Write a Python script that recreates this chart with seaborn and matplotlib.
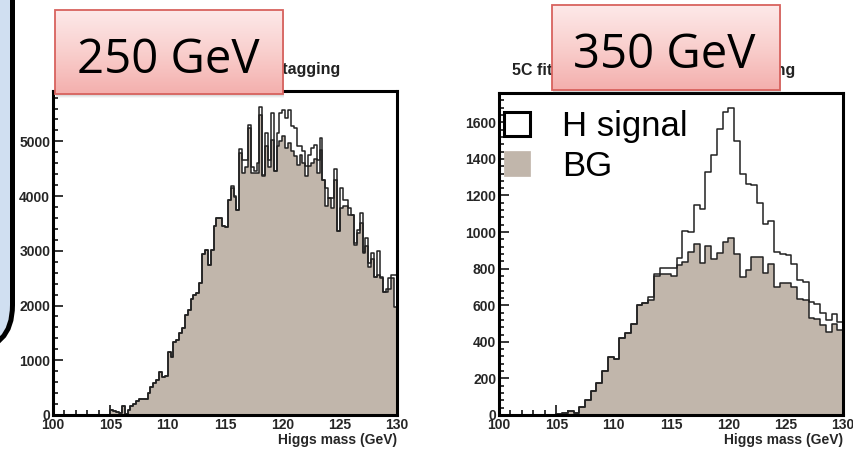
import numpy as np
import pandas as pd
import matplotlib
matplotlib.use("Agg")
import matplotlib.pyplot as plt
import seaborn as sns
from matplotlib.patches import Rectangle, FancyBboxPatch
from matplotlib.colors import LinearSegmentedColormap
from matplotlib.ticker import MultipleLocator

sns.set_theme(style="ticks")
plt.rcParams['font.family'] = ['Liberation Sans', 'DejaVu Sans']

# ---------------- data: reconstructed Higgs mass (GeV) ----------------
edges_250 = np.linspace(100, 130, 121).tolist()   # 0.25 GeV bins
edges_350 = np.linspace(100, 130, 61).tolist()    # 0.5 GeV bins

# sqrt(s) = 250 GeV : background and signal+background per bin
bg_250 = [
    0, 0, 0, 0, 0, 0, 0, 0, 0, 0, 0, 0, 0, 0, 0, 0, 0, 0, 0, 0,
    90, 80, 60, 30, 165, 20, 90, 165, 200, 260, 285, 295, 300, 400, 505, 580, 640, 790, 700, 705,
    1160, 1055, 1340, 1370, 1505, 1585, 1830, 1920, 2116, 2195, 2237, 2420, 2945, 3018, 2744, 3018, 3457, 3597, 3597, 3457,
    3432, 3932, 4145, 3990, 3740, 4785, 4420, 4540, 5244, 4420, 4420, 4420, 5488, 4372, 4909, 4540, 5030, 4451, 4909, 5000,
    5091, 4878, 4970, 4817, 4726, 4573, 4756, 4604, 4360, 4555, 4604, 4677, 4421, 4848, 4299, 3811, 3963, 3780, 4300, 3354,
    3780, 3811, 3811, 3650, 3650, 3100, 3320, 3500, 2960, 3080, 2700, 2850, 2530, 2560, 2500, 2256, 2250, 2300, 2500, 1980,
]
total_250 = [
    0, 0, 0, 0, 0, 0, 0, 0, 0, 0, 0, 0, 0, 0, 0, 0, 0, 0, 0, 0,
    90, 80, 60, 30, 165, 20, 90, 165, 200, 260, 285, 295, 300, 400, 505, 580, 640, 790, 700, 705,
    1160, 1055, 1340, 1370, 1505, 1585, 1830, 1920, 2116, 2195, 2237, 2420, 2945, 3018, 2744, 3018, 3457, 3597, 3597, 3457,
    3432, 3932, 4188, 3993, 3749, 4855, 4665, 4665, 5305, 4540, 4450, 4600, 5628, 4389, 5152, 4665, 5518, 4451, 5152, 5518,
    5579, 5427, 5579, 5274, 5244, 4909, 4909, 4817, 4543, 4756, 4878, 4939, 4665, 5061, 4299, 4146, 3963, 3963, 4494, 3354,
    4146, 3933, 3933, 3780, 3653, 3140, 3384, 3700, 2987, 3231, 2774, 2957, 2530, 3005, 2530, 2256, 2300, 2500, 2560, 2560,
]

# sqrt(s) = 350 GeV : background and signal+background per bin
bg_350 = [
    0, 0, 0, 0, 0, 0, 0, 0, 0, 0, 3, 13, 20, 13, 42, 82, 133, 177, 242, 318,
    307, 420, 446, 500, 600, 613, 630, 760, 773, 773, 760, 819, 835, 892, 937, 832, 926, 850, 883, 946,
    970, 879, 755, 792, 861, 865, 777, 825, 697, 719, 719, 697, 633, 628, 528, 522, 491, 452, 497, 464,
]
total_350 = [
    0, 0, 0, 0, 0, 0, 0, 0, 0, 0, 3, 13, 20, 13, 42, 82, 133, 177, 242, 318,
    307, 420, 446, 500, 600, 613, 645, 773, 801, 801, 801, 860, 1005, 1001, 1147, 1128, 1329, 1420, 1565, 1656,
    1680, 1498, 1320, 1265, 1256, 1159, 1046, 1061, 890, 879, 874, 824, 737, 728, 615, 606, 559, 519, 551, 509,
]

panels = [
    ("250 GeV", edges_250, bg_250, total_250, 5920, 1000, 200),
    ("350 GeV", edges_350, bg_350, total_350, 1760, 200, 40),
]
plot_title = "5C fit: Higgs mass with full b-tagging"

BG_COLOR = "#c1b6ab"
LINE_COLOR = "#222222"
W, H = 854, 449

fig = plt.figure(figsize=(W / 100, H / 100), dpi=100)
fig.patch.set_facecolor("white")

# pixel-coordinate canvas behind the plots
ax_bg = fig.add_axes([0, 0, 1, 1], zorder=0)
ax_bg.set_xlim(0, W)
ax_bg.set_ylim(H, 0)
ax_bg.axis("off")

# blue side panel with rounded bottom corner
ax_bg.add_patch(FancyBboxPatch((-80, -80), 92.5, 430, boxstyle="round,pad=0,rounding_size=45",
                               fc="#d0dff1", ec="black", lw=3.6))

axes_px = [(53, 91, 397, 415), (499, 93, 843, 415)]
axes = []
for (x0, y0, x1, y1) in axes_px:
    ax = fig.add_axes([x0 / W, 1 - y1 / H, (x1 - x0) / W, (y1 - y0) / H], zorder=2)
    axes.append(ax)

for ax, (label, edges, bg, total, ymax, major, minor) in zip(axes, panels):
    centers = [(a + b) / 2 for a, b in zip(edges[:-1], edges[1:])]
    df = pd.DataFrame({"mass": centers, "bg": bg, "total": total})
    sns.histplot(data=df, x="mass", weights="total", bins=edges, element="step",
                 fill=False, color=LINE_COLOR, linewidth=1.1, ax=ax)
    sns.histplot(data=df, x="mass", weights="bg", bins=edges, element="step",
                 fill=True, color=BG_COLOR, alpha=1, edgecolor=LINE_COLOR,
                 linewidth=1.1, ax=ax)
    ax.set_xlim(100, 130)
    ax.set_ylim(0, ymax)
    ax.set_ylabel("")
    ax.set_xlabel("Higgs mass (GeV)", loc="right", fontsize=10, fontweight="bold", labelpad=1)
    ax.xaxis.set_major_locator(MultipleLocator(5))
    ax.xaxis.set_minor_locator(MultipleLocator(1))
    ax.yaxis.set_major_locator(MultipleLocator(major))
    ax.yaxis.set_minor_locator(MultipleLocator(minor))
    ax.tick_params(which="both", direction="in", top=False, right=False, color="black", width=1.1)
    ax.tick_params(which="major", length=7, labelsize=10, pad=2)
    ax.tick_params(which="minor", length=3.5)
    for t in ax.get_xticklabels() + ax.get_yticklabels():
        t.set_fontweight("bold")
    for sp in ax.spines.values():
        sp.set_visible(True)
        sp.set_linewidth(2.2)
        sp.set_color("black")
    ax.set_facecolor("white")

# panel titles (partly covered by the energy boxes)
axes[0].text(340, 74, plot_title, transform=ax_bg.transData, ha="right", va="baseline",
             fontsize=11.5, fontweight="bold", color="#222222", clip_on=False)
axes[1].text(512, 75, plot_title, transform=ax_bg.transData, ha="left", va="baseline",
             fontsize=11.5, fontweight="bold", color="#222222", clip_on=False)

# legend of the 350 GeV panel
tr = ax_bg.transData
axes[1].add_patch(Rectangle((504, 112), 26, 24, transform=tr, fc="white", ec="black", lw=2.2, clip_on=False))
axes[1].add_patch(Rectangle((504, 151), 26, 25, transform=tr, fc=BG_COLOR, ec=BG_COLOR, lw=0.5, clip_on=False))
axes[1].text(562, 136, "H signal", transform=tr, ha="left", va="baseline", fontsize=25,
             color="black", clip_on=False)
axes[1].text(562, 176, "BG", transform=tr, ha="left", va="baseline", fontsize=25,
             color="black", clip_on=False)

# energy boxes on top
ax_top = fig.add_axes([0, 0, 1, 1], zorder=5)
ax_top.patch.set_visible(False)
ax_top.axis("off")
pink = LinearSegmentedColormap.from_list("pink", ["#fde9e9", "#f9cfcd", "#f4afad"])
grad = np.linspace(0, 1, 256)[:, None]
boxes = [(55, 10, 283, 94, "250 GeV", 168, 73), (552, 5, 780, 90, "350 GeV", 664, 68)]
for (x0, y0, x1, y1, txt, tx, ty) in boxes:
    for k, a in zip((4, 3, 2, 1), (0.05, 0.07, 0.09, 0.12)):
        ax_top.add_patch(Rectangle((x0 + 1, y0 + k), x1 - x0, y1 - y0, fc="#555555", ec="none", alpha=a))
    ax_top.imshow(grad, cmap=pink, extent=(x0, x1, y1, y0), aspect="auto", origin="upper", zorder=2)
    ax_top.add_patch(Rectangle((x0, y0), x1 - x0, y1 - y0, fc="none", ec="#d8625e", lw=1.3, zorder=3))
    ax_top.text(tx, ty, txt, ha="center", va="baseline", fontsize=34, family=["Open Sans", "DejaVu Sans"],
                color="black", zorder=4)
ax_top.set_xlim(0, W)
ax_top.set_ylim(H, 0)

fig.savefig("out.png", dpi=100)
